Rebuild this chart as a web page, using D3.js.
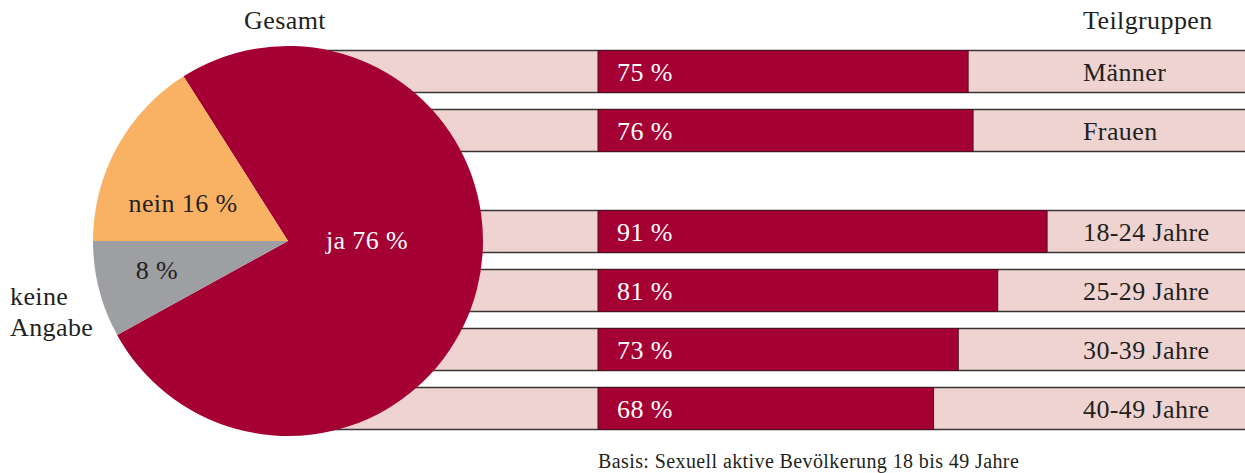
<!DOCTYPE html>
<html><head><meta charset="utf-8">
<script src="https://cdn.jsdelivr.net/npm/d3@7"></script>
<style>body{margin:0;background:#fff}svg{display:block}text{font-family:"Liberation Serif","Times New Roman",serif;}</style>
</head><body><svg id="c" width="1245" height="473"></svg>
<script>
const pieLabels = ["ja", "keine Angabe", "nein"];
const pieValues = [76, 8, 16];
const categories = ["Männer", "Frauen", "18-24 Jahre", "25-29 Jahre", "30-39 Jahre", "40-49 Jahre"];
const groups = [0, 0, 1, 1, 1, 1];
const values = [75, 76, 91, 81, 73, 68];
const titleLeft = "Gesamt";
const titleRight = "Teilgruppen";
const footnote = "Basis: Sexuell aktive Bevölkerung 18 bis 49 Jahre";

const RED = "#a50034", PINK = "#efd3d1", ORANGE = "#f9b264", GRAY = "#9e9fa3", TXT = "#231f20";
const FS = 26, LS = 0.4;
const svg = d3.select("#c");

// bars
const x = d3.scaleLinear().domain([0, 100]).range([598, 1091.5]);
const yi = d3.scaleLinear().domain([0, categories.length - 1]).range([50, 50 + 59 * (categories.length - 1)]);
const groupGap = 42;
const rowY = (d, i) => yi(i) + groups[i] * groupGap;
const bh = 43;

const rows = svg.append("g").selectAll("g").data(categories).join("g")
  .attr("transform", (d, i) => `translate(0,${rowY(d, i)})`);
rows.append("rect").attr("x", 288).attr("y", 0).attr("width", 1245 - 288).attr("height", bh).attr("fill", PINK);
rows.append("line").attr("x1", 288).attr("x2", 1245).attr("y1", 0.5).attr("y2", 0.5).attr("stroke", "#3a3436").attr("stroke-width", 1.5);
rows.append("line").attr("x1", 288).attr("x2", 1245).attr("y1", bh - 0.5).attr("y2", bh - 0.5).attr("stroke", "#3a3436").attr("stroke-width", 1.5);
rows.append("rect").attr("x", x(0)).attr("y", 0.5).attr("width", (d, i) => x(values[i]) - x(0)).attr("height", bh - 1)
  .attr("fill", RED).attr("stroke", "#4a1020").attr("stroke-width", 1);
rows.append("text").attr("x", x(0) + 19).attr("y", 31).attr("letter-spacing", LS)
  .attr("fill", "#fff").attr("font-size", FS).text((d, i) => values[i] + " %");
rows.append("text").attr("x", 1083).attr("y", 31).attr("letter-spacing", LS)
  .attr("fill", TXT).attr("font-size", FS).text(d => d);

// pie
const cx = 288, cy = 241, R = 195;
const total = d3.sum(pieValues);
const start = 1.5 * Math.PI - (pieValues[0] + pieValues[1]) / total * 2 * Math.PI;
const pie = d3.pie().sort(null).startAngle(start).endAngle(start + 2 * Math.PI);
const arcs = pie(pieValues);
const arc = d3.arc().innerRadius(0).outerRadius(R);
const colors = [RED, GRAY, ORANGE];
const pg = svg.append("g").attr("transform", `translate(${cx},${cy})`);
pg.selectAll("path").data(arcs).join("path").attr("d", arc).attr("fill", (d, i) => colors[i]);

function txt(xp, yp, s, fill, anchor, fs) {
  return svg.append("text").attr("x", xp).attr("y", yp).attr("text-anchor", anchor || "middle")
    .attr("letter-spacing", LS).attr("fill", fill).attr("font-size", fs || FS).text(s);
}
txt(367, 249, pieLabels[0] + " " + pieValues[0] + " %", "#fff");
txt(183, 212, pieLabels[2] + " " + pieValues[2] + " %", TXT);
txt(157, 279, pieValues[1] + " %", TXT);
const ka = svg.append("text").attr("x", 10).attr("fill", TXT).attr("font-size", FS).attr("letter-spacing", LS);
pieLabels[1].split(" ").forEach((w, i) => ka.append("tspan").attr("x", 10).attr("y", 305 + i * 31).text(w));

txt(285, 29, titleLeft, TXT);
txt(1083, 29, titleRight, TXT, "start");
svg.append("text").attr("x", 598).attr("y", 468).attr("fill", TXT).attr("font-size", 20).attr("letter-spacing", 0.4).text(footnote);
</script></body></html>
